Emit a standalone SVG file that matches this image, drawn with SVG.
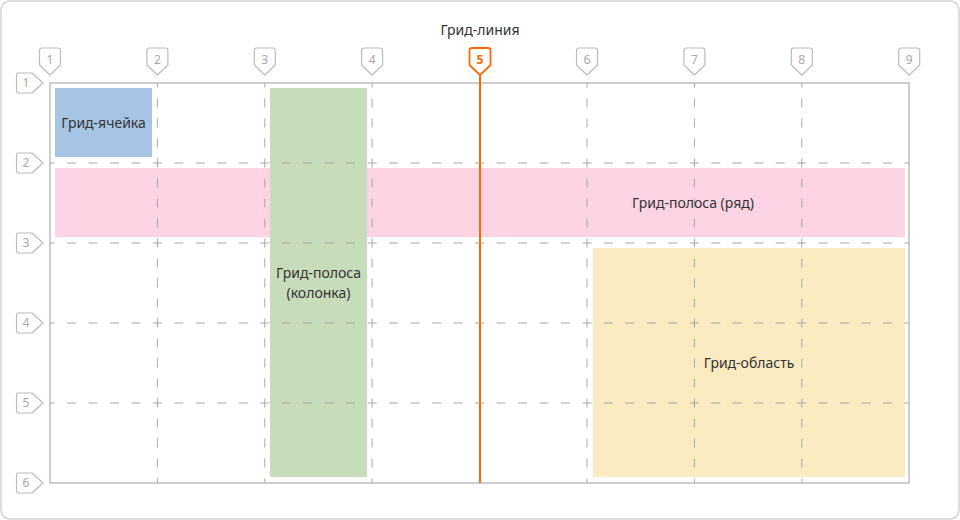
<svg xmlns="http://www.w3.org/2000/svg" width="960" height="520" viewBox="0 0 960 520">
<style>
.lbl{font-family:"Noto Sans","Open Sans","DejaVu Sans",sans-serif;font-size:14px;fill:#333;text-anchor:middle}
.mk{fill:#fff;stroke:#bcbcbc;stroke-width:1.2;stroke-linejoin:round}
.mkt{font-family:"Noto Sans","DejaVu Sans",sans-serif;font-size:12px;fill:#a8a8a8;text-anchor:middle}
.hd{stroke:#a6a6a6;stroke-width:1;stroke-dasharray:9 12.475;stroke-dashoffset:4.5;fill:none}
.vd{stroke:#a6a6a6;stroke-width:1;stroke-dasharray:9 11;stroke-dashoffset:4.5;fill:none}
</style>
<rect x="1" y="1" width="958" height="518" rx="9" fill="#fff" stroke="#d4d4d4" stroke-width="1.5"/>
<text class="lbl" x="480" y="35">Грид-линия</text>

<g id="cell">
<rect x="55" y="88" width="97" height="69" fill="#a6c4e3"/>
<text class="lbl" x="103.5" y="128">Грид-ячейка</text>
</g>
<g id="row-track">
<rect x="55" y="168" width="850" height="69" fill="#fcd4e3"/>
</g>
<g id="col-track">
<rect x="270" y="88" width="97" height="389" fill="#c7dcba"/>
</g>
<g id="area">
<rect x="593" y="248" width="312" height="229" fill="#faebc1"/>
</g>

<g id="grid-lines">
<path class="hd" d="M50 163H909M50 243H909M50 323H909M50 403H909"/>
<path class="vd" d="M157.4 83V483M264.8 83V483M372.1 83V483M587 83V483M694.4 83V483M801.8 83V483"/>
<rect x="50" y="83" width="859" height="400" fill="none" stroke="#bdbdbd" stroke-width="1.5"/>
<line x1="480" y1="76" x2="480" y2="483" stroke="#ff6a00" stroke-width="2"/>
</g>

<text class="lbl" x="693" y="208">Грид-полоса (ряд)</text>
<text class="lbl" x="318.5" y="278">Грид-полоса</text>
<text class="lbl" x="318.5" y="298">(колонка)</text>
<text class="lbl" x="749" y="368">Грид-область</text>

<defs>
<path id="cm" d="M-8 -28H8Q10.5 -28 10.5 -25.5V-11L0 -1L-10.5 -11V-25.5Q-10.5 -28 -8 -28Z"/>
<path id="rm" d="M-25 -10H-12L-1 0L-12 10H-25Q-27.5 10 -27.5 7.5V-7.5Q-27.5 -10 -25 -10Z"/>
</defs>

<g id="col-markers">
<g id="c1"><use href="#cm" class="mk" x="50" y="76"/><text class="mkt" x="50" y="64">1</text></g>
<g id="c2"><use href="#cm" class="mk" x="157.4" y="76"/><text class="mkt" x="157.4" y="64">2</text></g>
<g id="c3"><use href="#cm" class="mk" x="264.8" y="76"/><text class="mkt" x="264.8" y="64">3</text></g>
<g id="c4"><use href="#cm" class="mk" x="372.1" y="76"/><text class="mkt" x="372.1" y="64">4</text></g>
<g id="c5"><use href="#cm" x="480" y="76" fill="#fff" stroke="#ff6a00" stroke-width="1.8" stroke-linejoin="round"/><text class="mkt" x="480" y="64" style="fill:#ff6a00;font-weight:bold">5</text></g>
<g id="c6"><use href="#cm" class="mk" x="587" y="76"/><text class="mkt" x="587" y="64">6</text></g>
<g id="c7"><use href="#cm" class="mk" x="694.4" y="76"/><text class="mkt" x="694.4" y="64">7</text></g>
<g id="c8"><use href="#cm" class="mk" x="801.8" y="76"/><text class="mkt" x="801.8" y="64">8</text></g>
<g id="c9"><use href="#cm" class="mk" x="909.2" y="76"/><text class="mkt" x="909.2" y="64">9</text></g>
</g>

<g id="row-markers">
<g id="r1"><use href="#rm" class="mk" x="44" y="83"/><text class="mkt" x="26" y="87">1</text></g>
<g id="r2"><use href="#rm" class="mk" x="44" y="163"/><text class="mkt" x="26" y="167">2</text></g>
<g id="r3"><use href="#rm" class="mk" x="44" y="243"/><text class="mkt" x="26" y="247">3</text></g>
<g id="r4"><use href="#rm" class="mk" x="44" y="323"/><text class="mkt" x="26" y="327">4</text></g>
<g id="r5"><use href="#rm" class="mk" x="44" y="403"/><text class="mkt" x="26" y="407">5</text></g>
<g id="r6"><use href="#rm" class="mk" x="44" y="483"/><text class="mkt" x="26" y="487">6</text></g>
</g>
</svg>
